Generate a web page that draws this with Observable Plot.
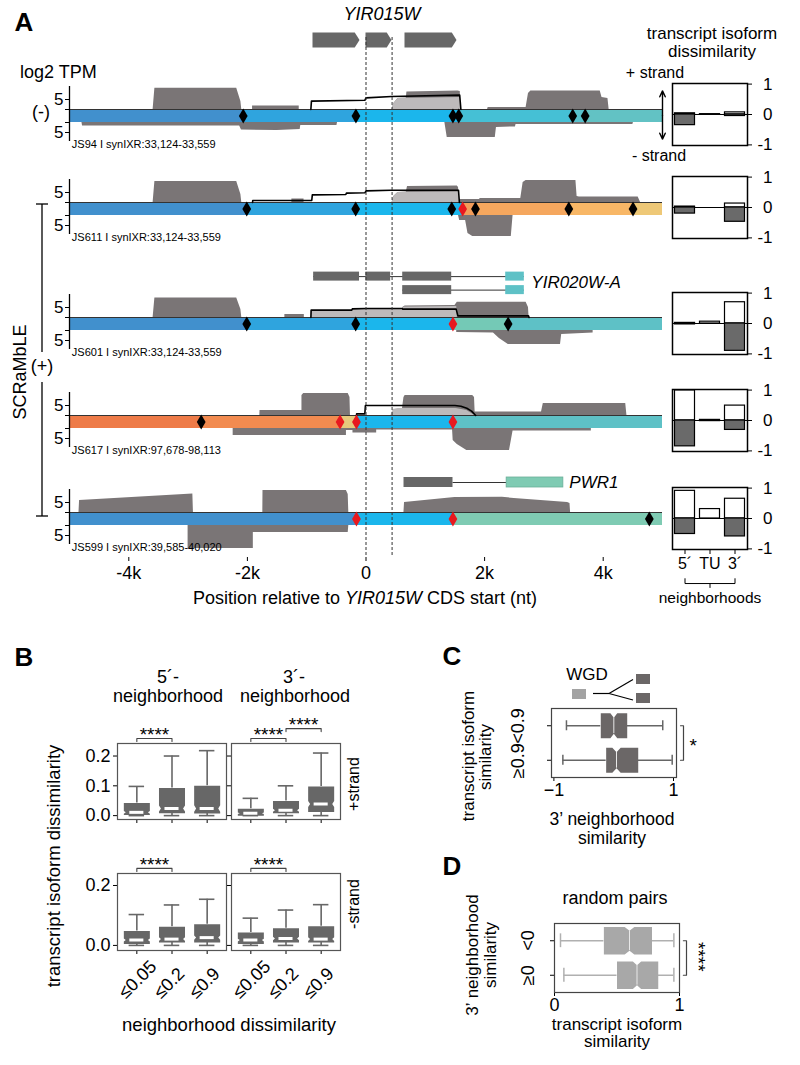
<!DOCTYPE html>
<html><head><meta charset="utf-8">
<script src="https://cdn.jsdelivr.net/npm/d3@7"></script>
<script src="https://cdn.jsdelivr.net/npm/@observablehq/plot@0.6"></script>
<style>
body{margin:0;background:#fff;}
#fig{position:relative;width:800px;height:1065px;font-family:"Liberation Sans",Arial,Helvetica,sans-serif;color:#000;overflow:hidden;background:#fff}
.lbl{position:absolute;white-space:nowrap;line-height:1}
</style></head>
<body><div id="fig"></div>
<script>
// ---------------- DATA ----------------
// Panel A: genome tracks (x in nt relative to YIR015W CDS start; y in log2 TPM)
const xTicksA = [-4000, -2000, 0, 2000, 4000];
const cdsMarks = [0, 440];
const yir015wExons = [[-894, -101], [0, 438], [658, 1535]];
const yir020Exons = [[1, -883, -109], [1, -2, 416], [1, 619, 1445], [2, 619, 1445]];
const yir020Utrs = [[1, 2356, 2670], [2, 2356, 2670]];
const pwr1Exons = [[641, 1467]];
const pwr1Utrs = [[2372, 3328]];

const trackNames = ["JS94 I synIXR:33,124-33,559", "JS611 I synIXR:33,124-33,559", "JS601 I synIXR:33,124-33,559", "JS617 I synIXR:97,678-98,113", "JS599 I synIXR:39,585-40,020"];

const t1Segments = [[-5000,-2070,"b1"],[-2070,-170,"b2"],[-170,1564,"c"],[1564,3486,"t1"],[3486,3696,"t2"],[3696,5000,"t3"]];
const t1Sites = [[-2070,"lox"],[-170,"lox"],[1466,"lox"],[1564,"lox"],[3486,"lox"],[3696,"lox"]];
const t1Plus = [[-3590,0],[-3560,10.6],[-2180,10.6],[-2110,4],[-2095,0],[-1913,0],[-1913,1.7],[-1126,1.7],[-1126,0],[440,0],[470,3],[540,5.5],[680,5.8],[690,8.8],[1550,9.3],[1590,9],[1600,0],[2050,0],[2060,1],[2700,1],[2740,8],[2780,9.2],[3950,9.2],[3980,6],[4080,5.5],[4100,0]];
const t1Light = [[440,0],[470,3],[540,5.5],[1590,6],[1600,0]];
const t1Line = [[-930,0],[-920,4.2],[-20,4.6],[0,5.8],[430,6.5],[1580,7.2],[1600,0]];
const t1Minus = [[-4790,0],[-4780,1.7],[-2130,1.7],[-2100,3.8],[-1500,4],[-1110,3.5],[-1100,1.5],[-490,1.5],[-480,0],[1330,0],[1370,7.5],[2180,7.5],[2200,2.5],[2520,2.2],[2530,1],[4500,1],[4510,0]];

const t2Segments = [[-5000,-2011,"b1"],[-2011,-174,"b2"],[-174,1630,"c"],[1630,1846,"o3"],[1846,3420,"o4"],[3420,4503,"o5"],[4503,5000,"y2"]];
const t2Sites = [[-2011,"lox"],[-174,"lox"],[1446,"lox"],[1630,"novel"],[1846,"lox"],[3420,"lox"],[4503,"lox"]];
const t2Plus = [[-3590,0],[-3560,10.5],[-2180,10.5],[-2110,4],[-2095,0],[-1250,0],[-1250,1.8],[-1045,1.8],[-1045,0],[440,0],[470,3],[540,5],[680,5.2],[700,8],[1540,8.3],[1560,7.5],[1580,0],[1590,1.5],[1920,1.5],[1920,2],[2610,2],[2650,10],[2700,11],[3540,11],[3560,3],[3600,2.7],[4590,2.7],[4630,0]];
const t2Light = [[440,0],[470,3],[540,5],[1570,5.2],[1580,0]];
const t2Line = [[-1913,0],[-1910,1],[-915,1],[-905,3.8],[-340,4],[-330,4.7],[-15,4.9],[0,5.8],[420,6.1],[1560,6.1],[1575,0]];
const t2Minus = [[1560,0],[1580,2.5],[1680,2.5],[1720,9],[1800,10.5],[2450,10.5],[2480,0]];

const t3Segments = [[-5000,-2011,"b1"],[-2011,-174,"b2"],[-174,1466,"c"],[1466,2397,"m1"],[2397,5000,"t4"]];
const t3Sites = [[-2011,"lox"],[-174,"lox"],[1466,"novel"],[2397,"lox"]];
const t3Plus = [[-3590,0],[-3560,9.7],[-2180,9.7],[-2110,4],[-2095,0],[-1368,0],[-1368,1.5],[-1040,1.5],[-1040,0],[600,0],[620,5],[660,5.8],[1500,6],[1540,7.6],[2700,7.6],[2740,5],[2750,0]];
const t3Light = [[-929,0],[-925,3.3],[-240,3.3],[-230,4.1],[0,4.3],[600,4.3],[650,5.3],[1530,5.5],[1540,0]];
const t3Line = [[-929,0],[-925,3.7],[-240,3.7],[-230,4.3],[0,4.5],[610,4.5],[620,4.2],[1520,4.2],[1550,0.8],[2740,0.8],[2750,0]];
const t3Minus = [[1530,0],[1530,1],[2150,1.2],[2250,4],[2400,7],[3280,7],[3300,2],[3830,1.3],[3830,0]];

const t4Segments = [[-5000,-2779,"o1"],[-2779,-437,"o2"],[-437,-161,"y1"],[-161,1466,"c"],[1466,5000,"t4"]];
const t4Sites = [[-2779,"lox"],[-437,"novel"],[-161,"novel"],[1466,"novel"]];
const t4Plus = [[-1790,0],[-1787,2.5],[-1080,2.5],[-1080,10],[-1050,11],[-300,11],[-270,9],[-262,0],[600,0],[640,9],[660,10],[1800,10],[1830,9],[1840,1.7],[2960,1.7],[2990,6],[4380,6],[4400,0]];
const t4Light = [[420,0],[460,3],[540,3.5],[1520,3.5],[1700,2.5],[1840,0]];
const t4Line = [[-161,0],[-158,0.8],[-20,0.8],[-10,5],[1500,5],[1600,4.6],[1700,3.6],[1780,2.2],[1850,0]];
const t4Minus = [[-2240,0],[-2240,3.5],[-330,3.5],[-330,1],[-220,1],[-220,2.3],[180,2.3],[180,0.8],[1460,0.8],[1470,6],[1540,8],[1700,11],[2420,11],[2480,1.2],[3800,1.2],[3800,0]];

const t5Segments = [[-5000,-161,"b1"],[-161,1466,"c"],[1466,5000,"g1"]];
const t5Sites = [[-161,"novel"],[1466,"novel"],[4778,"lox"]];
const t5Plus = [[-4840,0],[-4830,6],[-2920,9.3],[-2910,0],[-1740,0],[-1737,11],[-330,11],[-300,9],[-290,0],[640,0],[650,5],[1500,7.5],[2300,7.6],[2500,7],[3400,5],[3440,4.5],[3450,0]];
const t5Light = [];
const t5Line = [];
const t5Minus = [[-3000,0],[-3000,11.5],[-1900,11.5],[-1900,3.5],[-300,3.5],[-290,0]];

// Panel A right: transcript isoform dissimilarity per neighborhood
const regions = ["5´", "TU", "3´"];
const dissPlus  = [[0.04, 0.01, 0.07], [0.03, 0, 0.13], [0.02, 0.06, 0.7], [0.99, 0.02, 0.49], [0.91, 0.31, 0.65]];
const dissMinus = [[-0.35, -0.01, -0.05], [-0.2, 0, -0.47], [-0.03, 0, -0.9], [-0.85, -0.02, -0.31], [-0.51, 0, -0.59]];

// Panel B: box stats [lowWhisker, q1, median, q3, highWhisker]
const bCats = ["≤0.05", "≤0.2", "≤0.9"];
const b5Plus  = [[0, 0.002, 0.011, 0.042, 0.098], [0, 0.008, 0.024, 0.093, 0.2], [0, 0.007, 0.024, 0.1, 0.218]];
const b3Plus  = [[0, 0.0, 0.008, 0.023, 0.058], [0, 0.008, 0.018, 0.049, 0.1], [0, 0.012, 0.039, 0.098, 0.21]];
const b5Minus = [[0, 0.005, 0.018, 0.048, 0.103], [0, 0.01, 0.021, 0.062, 0.135], [0, 0.01, 0.026, 0.071, 0.154]];
const b3Minus = [[0, 0.005, 0.018, 0.043, 0.091], [0, 0.01, 0.023, 0.057, 0.118], [0, 0.01, 0.021, 0.064, 0.136]];

// Panel C and D
const cCats = ["<0.9", "≥0.9"];
const cStats = [[-0.79, -0.216, 0.002, 0.226, 0.82], [-0.85, -0.126, 0.047, 0.41, 0.978]];
const dCats = ["<0", "≥0"];
const dStats = [[0.048, 0.395, 0.6, 0.78, 0.955], [0.075, 0.5, 0.66, 0.83, 0.955]];

// ---------------- STYLE ----------------
const FONT = '"Liberation Sans", Arial, Helvetica, sans-serif';
const DARK = "#7a7576", LIGHT = "#bdbabb", GENE = "#676767", BOXG = "#676767";
const BAR = 6.5;
const segKeys = ["b1","b2","c","t1","t2","t3","m1","t4","o1","o2","y1","o3","o4","o5","y2","g1"];
const segColors = ["#4190cd","#2fa4de","#1bb6ec","#45c0d5","#57c1cc","#62c2c4","#74c9b6","#5ec1c6","#ee7b48","#f28b50","#e6c97c","#f39d5a","#f5a75e","#f8b766","#eec877","#7fcbb3"];
const baseStyle = {background: "transparent", overflow: "visible", fontFamily: FONT, fontSize: "17px", color: "black"};

const fig = document.getElementById("fig");
function put(svg, left, top) {
  svg.style.position = "absolute"; svg.style.left = left + "px"; svg.style.top = top + "px";
  fig.appendChild(svg); return svg;
}
function txt(s, x, y, o = {}) {
  const d = document.createElement("div");
  d.className = "lbl";
  if (o.html) d.innerHTML = s; else d.textContent = s;
  d.style.left = x + "px"; d.style.top = y + "px";
  d.style.fontSize = (o.size || 18) + "px";
  if (o.weight) d.style.fontWeight = o.weight;
  if (o.italic) d.style.fontStyle = "italic";
  const a = o.anchor || "middle";
  const tx = a === "start" ? "0" : a === "end" ? "-100%" : "-50%";
  d.style.transform = `translate(${tx},-50%)` + (o.rotate ? ` rotate(${o.rotate}deg)` : "");
  fig.appendChild(d);
}
const X = d => d[0], V = d => d[1];

// ---------------- PANEL A TRACKS ----------------
function trackPlot(plus, light, line, minus, segs, sites, name, extra = []) {
  return Plot.plot({
    width: 800, height: 70, marginLeft: 69, marginRight: 138, marginTop: 0, marginBottom: 0,
    style: baseStyle,
    x: {domain: [-5000, 5000], axis: null},
    y: {domain: [-21, 14], ticks: [5, 0, -BAR, -BAR - 5], tickFormat: d => (d === 5 || d === -BAR - 5) ? "5" : "", tickSize: 4, tickPadding: 2, label: null},
    color: {domain: segKeys, range: segColors},
    marks: [
      Plot.areaY(plus, {x: X, y1: 0, y2: V, fill: DARK}),
      Plot.areaY(light, {x: X, y1: 0, y2: V, fill: LIGHT}),
      Plot.areaY(minus, {x: X, y1: -BAR, y2: d => -BAR - d[1], fill: DARK}),
      Plot.rect(segs, {x1: d => d[0], x2: d => d[1], y1: -BAR, y2: 0, fill: d => d[2]}),
      Plot.ruleY([0], {stroke: "#333", strokeWidth: 1}),
      Plot.line(line, {x: X, y: V, stroke: "black", strokeWidth: 1.6}),
      Plot.dot(sites.filter(d => d[1] === "lox"), {x: X, y: -BAR / 2, symbol: "diamond", r: 4.6, fill: "black", stroke: null}),
      Plot.dot(sites.filter(d => d[1] === "novel"), {x: X, y: -BAR / 2, symbol: "diamond", r: 4.6, fill: "#e8191f", stroke: null}),
      Plot.ruleX([-5000], {y1: 11.5, y2: -16, stroke: "black", strokeWidth: 1.3}),
      Plot.text([name], {x: -4960, y: -17.3, text: d => d, textAnchor: "start", fontSize: 11, fill: "black"}),
      ...extra
    ]
  });
}
const baselines = [108.5, 202, 317, 415, 512];
const strandArrow = [
  Plot.arrow([{y1: -3, y2: 9.3}, {y1: -3, y2: -14.8}], {x1: 5000, x2: 5000, y1: "y1", y2: "y2", stroke: "black", strokeWidth: 1.4, headLength: 7, headAngle: 50})
];
const tracks = [
  [t1Plus, t1Light, t1Line, t1Minus, t1Segments, t1Sites, strandArrow],
  [t2Plus, t2Light, t2Line, t2Minus, t2Segments, t2Sites, []],
  [t3Plus, t3Light, t3Line, t3Minus, t3Segments, t3Sites, []],
  [t4Plus, t4Light, t4Line, t4Minus, t4Segments, t4Sites, []],
  [t5Plus, t5Light, t5Line, t5Minus, t5Segments, t5Sites, []]
];
tracks.forEach((t, k) => {
  put(trackPlot(t[0], t[1], t[2], t[3], t[4], t[5], trackNames[k], t[6]), 0, baselines[k] - 28);
});

// gene models
const tip = 80;
const yir015wPoly = yir015wExons.flatMap(([s, e], i) => [
  {x: s, y1: -1, y2: 1, id: i}, {x: e - tip, y1: -1, y2: 1, id: i}, {x: e, y1: 0, y2: 0, id: i}]);
put(Plot.plot({
  width: 800, height: 20, marginLeft: 69, marginRight: 138, marginTop: 0, marginBottom: 0, style: baseStyle,
  x: {domain: [-5000, 5000], axis: null}, y: {domain: [-1.333, 1.333], axis: null},
  marks: [Plot.areaY(yir015wPoly, {x: "x", y1: "y1", y2: "y2", z: "id", fill: GENE})]
}), 0, 30);

const yir020Introns = d3.groups(yir020Exons, d => d[0]).map(([row, ex]) => ({row, s: d3.min(ex, d => d[1]), e: d3.max(yir020Utrs.filter(u => u[0] === row), u => u[2])}));
put(Plot.plot({
  width: 800, height: 30, marginLeft: 69, marginRight: 138, marginTop: 0, marginBottom: 0, style: baseStyle,
  x: {domain: [-5000, 5000], axis: null}, y: {domain: [0.4, 2.62], reverse: true, axis: null},
  marks: [
    Plot.ruleY(yir020Introns, {y: "row", x1: "s", x2: "e", stroke: "#333", strokeWidth: 1}),
    Plot.rect(yir020Exons, {x1: d => d[1], x2: d => d[2], y1: d => d[0] - 0.333, y2: d => d[0] + 0.333, fill: GENE}),
    Plot.rect(yir020Utrs, {x1: d => d[1], x2: d => d[2], y1: d => d[0] - 0.333, y2: d => d[0] + 0.333, fill: "#5ec1c6"}),
    Plot.text(["YIR020W-A"], {x: d3.max(yir020Utrs, d => d[2]), y: 1.45, dx: 7, textAnchor: "start", fontStyle: "italic", fontSize: 17, fill: "black"})
  ]
}), 0, 268);

put(Plot.plot({
  width: 800, height: 20, marginLeft: 69, marginRight: 138, marginTop: 0, marginBottom: 0, style: baseStyle,
  x: {domain: [-5000, 5000], axis: null}, y: {domain: [-2, 2], axis: null},
  marks: [
    Plot.ruleY([0], {x1: d3.max(pwr1Exons, d => d[1]), x2: d3.min(pwr1Utrs, d => d[0]), stroke: "#333", strokeWidth: 1}),
    Plot.rect(pwr1Exons, {x1: d => d[0], x2: d => d[1], y1: -1, y2: 1, fill: GENE}),
    Plot.rect(pwr1Utrs, {x1: d => d[0], x2: d => d[1], y1: -1, y2: 1, fill: "#7fcbb3", stroke: "#6aae98", strokeWidth: 0.8}),
    Plot.text(["PWR1"], {x: d3.max(pwr1Utrs, d => d[1]), y: 0, dx: 6, textAnchor: "start", fontStyle: "italic", fontSize: 17, fill: "black"})
  ]
}), 0, 472);

// overlay: dashed CDS lines + x axis
put(Plot.plot({
  width: 800, height: 565, marginLeft: 69, marginRight: 138, marginTop: 0, marginBottom: 45, style: {...baseStyle, fontSize: "18px"},
  x: {domain: [-5000, 5000], ticks: xTicksA, tickFormat: d => d === 0 ? "0" : `${d / 1000}k`, tickSize: 4, tickPadding: 5, label: null},
  marks: [Plot.ruleX(cdsMarks, {stroke: "#333", strokeWidth: 1, strokeDasharray: "3,2"})]
}), 0, 37);

// right bar charts
const chartTops = [83, 176, 292, 389, 487];
chartTops.forEach((top, k) => {
  const last = k === chartTops.length - 1;
  const rows = regions.map((r, i) => ({i, plus: dissPlus[k][i], minus: dissMinus[k][i]}));
  const marks = [
    Plot.ruleY([0], {stroke: "black", strokeWidth: 1}),
    Plot.rect(rows.filter(d => d.plus !== 0), {x1: d => d.i - 0.4, x2: d => d.i + 0.4, y1: 0, y2: "plus", fill: "white", stroke: "black", strokeWidth: 1.2}),
    Plot.rect(rows.filter(d => d.minus !== 0), {x1: d => d.i - 0.4, x2: d => d.i + 0.4, y1: 0, y2: "minus", fill: "#6a6a6a", stroke: "black", strokeWidth: 1.2}),
    Plot.frame({stroke: "black", strokeWidth: 1.5}),
    Plot.text([-1, 0, 1], {y: d => d, text: d => String(d), frameAnchor: "right", dx: 25, textAnchor: "end", fontSize: 17, fill: "black"})
  ];
  if (last) {
    marks.push(
      Plot.line([{x: 0, y: -1.98}, {x: 0, y: -2.14}, {x: 2, y: -2.14}, {x: 2, y: -1.98}], {x: "x", y: "y", stroke: "black", strokeWidth: 1}),
      Plot.ruleX([1], {y1: -2.14, y2: -2.3, stroke: "black", strokeWidth: 1}),
      Plot.text(["neighborhoods"], {x: 1, y: -2.62, fontSize: 15.5, fill: "black"})
    );
  }
  put(Plot.plot({
    width: 112, height: last ? 116 : 66, marginLeft: 2, marginRight: 35, marginTop: 2, marginBottom: last ? 52 : 2,
    style: {...baseStyle, fontSize: "16px"},
    x: last ? {domain: [-0.5, 2.5], ticks: [0, 1, 2], tickFormat: i => regions[i], tickSize: 5, tickPadding: 3, label: null} : {domain: [-0.5, 2.5], axis: null},
    y: {domain: [-1.02, 1.02], ticks: [-1, 0, 1], tickFormat: () => "", tickSize: 4, axis: "right", label: null},
    marks
  }), 670, top - 2);
});

// ---------------- BOX HELPERS ----------------
function notchedBox(pos, s, hw, ind, nfrac, vertical, id) {
  const [lo, q1, med, q3, hi] = s;
  let n = nfrac * (q3 - q1); n = Math.max(0, Math.min(n, med - q1, q3 - med));
  const pts = [[-1, q1], [-1, med - n], [-ind, med], [-1, med + n], [-1, q3], [1, q3], [1, med + n], [ind, med], [1, med - n], [1, q1]];
  return pts.map(([o, v]) => vertical ? {x: pos + o * hw, y: v, id} : {x: v, y: pos + o * hw, id});
}

// ---------------- PANEL B ----------------
function bPlot(stats, o) {
  const rows = stats.map((s, i) => ({pos: i + 1, lo: s[0], q1: s[1], med: s[2], q3: s[3], hi: s[4]}));
  const boxes = stats.flatMap((s, i) => notchedBox(i + 1, s, 0.37, 0.85, 0.12, true, i));
  const top = o.domain[1];
  const br = (o.brackets || []).map(([a, b], j) => ({a, b, h: top + 0.017 + j * 0.033, j}));
  const brPts = br.flatMap(({a, b, h, j}) => [{x: a, y: h - 0.01, j}, {x: a, y: h, j}, {x: b, y: h, j}, {x: b, y: h - 0.01, j}]);
  const marks = [
    Plot.ruleX(rows, {x: "pos", y1: "lo", y2: "q1", stroke: BOXG, strokeWidth: 1.6}),
    Plot.ruleX(rows, {x: "pos", y1: "q3", y2: "hi", stroke: BOXG, strokeWidth: 1.6}),
    Plot.ruleY(rows, {y: "lo", x1: d => d.pos - 0.22, x2: d => d.pos + 0.22, stroke: BOXG, strokeWidth: 1.6}),
    Plot.ruleY(rows, {y: "hi", x1: d => d.pos - 0.22, x2: d => d.pos + 0.22, stroke: BOXG, strokeWidth: 1.6}),
    Plot.line(boxes, {x: "x", y: "y", z: "id", fill: BOXG, stroke: "none"}),
    Plot.ruleY(rows, {y: "med", x1: d => d.pos - 0.2, x2: d => d.pos + 0.2, stroke: "white", strokeWidth: 3}),
    Plot.frame({stroke: "#555", strokeWidth: 1.2}),
    Plot.line(brPts, {x: "x", y: "y", z: "j", stroke: "#444", strokeWidth: 1.1}),
    Plot.text(br, {x: d => (d.a + d.b) / 2, y: "h", text: () => "****", fontSize: 19, dy: -4, fill: "black"})
  ];
  if (o.xLabels) marks.push(Plot.text(bCats, {x: (d, i) => i + 1, frameAnchor: "bottom", text: d => d, rotate: -45, textAnchor: "start", dx: -11, dy: 49, fontSize: 18, fill: "black"}));
  return Plot.plot({
    width: 30 + 109 + 10, height: 30 + o.fh + 10, marginLeft: 30, marginRight: 10, marginTop: 30, marginBottom: 10,
    style: {...baseStyle, fontSize: "18px"},
    x: {domain: [0.45, 3.55], ticks: [1, 2, 3], tickFormat: () => "", tickSize: 4, label: null},
    y: {domain: o.domain, ticks: o.ticks, tickFormat: o.yLabels ? d3.format(".1f") : () => "", tickSize: 4, tickPadding: 3, label: null},
    marks
  });
}
const topDom = [-0.013, 0.242], botDom = [-0.017, 0.24];
put(bPlot(b5Plus, {domain: topDom, fh: 76, ticks: [0, 0.1, 0.2], yLabels: true, brackets: [[1, 2]]}), 117 - 30, 743 - 30);
put(bPlot(b3Plus, {domain: topDom, fh: 76, ticks: [0, 0.1, 0.2], yLabels: false, brackets: [[1, 2], [2, 3]]}), 231 - 30, 743 - 30);
put(bPlot(b5Minus, {domain: botDom, fh: 77, ticks: [0, 0.2], yLabels: true, brackets: [[1, 2]], xLabels: true}), 117 - 30, 873 - 30);
put(bPlot(b3Minus, {domain: botDom, fh: 77, ticks: [0, 0.2], yLabels: false, brackets: [[1, 2]], xLabels: true}), 231 - 30, 873 - 30);

// ---------------- PANELS C, D ----------------
function hPlot(stats, cats, o) {
  const rows = stats.map((s, i) => ({pos: i + 1, lo: s[0], q1: s[1], med: s[2], q3: s[3], hi: s[4]}));
  const boxes = stats.flatMap((s, i) => notchedBox(i + 1, s, o.hw, o.ind, o.nfrac, false, i));
  const bx = o.domain[1] + o.brOff;
  const marks = [
    Plot.ruleY(rows, {y: "pos", x1: "lo", x2: "q1", stroke: o.wcol, strokeWidth: 1.5}),
    Plot.ruleY(rows, {y: "pos", x1: "q3", x2: "hi", stroke: o.wcol, strokeWidth: 1.5}),
    Plot.ruleX(rows, {x: "lo", y1: d => d.pos - o.cap, y2: d => d.pos + o.cap, stroke: o.wcol, strokeWidth: 1.5}),
    Plot.ruleX(rows, {x: "hi", y1: d => d.pos - o.cap, y2: d => d.pos + o.cap, stroke: o.wcol, strokeWidth: 1.5}),
    Plot.line(boxes, {x: "x", y: "y", z: "id", fill: o.fill, stroke: "none"}),
    Plot.ruleX(rows, {x: "med", y1: d => d.pos - o.hw * o.ind, y2: d => d.pos + o.hw * o.ind, stroke: "#e8e8e8", strokeWidth: 1}),
    Plot.frame({stroke: "#444", strokeWidth: 1.2}),
    Plot.text(cats, {y: (d, i) => i + 1, frameAnchor: "left", text: d => d, rotate: -90, textAnchor: "start", dx: o.catDx, dy: o.catDy, fontSize: 18, fill: "black"}),
    Plot.line([{x: bx - o.brTick, y: 1}, {x: bx, y: 1}, {x: bx, y: 2}, {x: bx - o.brTick, y: 2}], {x: "x", y: "y", stroke: "#444", strokeWidth: 1.2}),
    Plot.text([o.sig], {x: bx, y: 1.5, dx: o.sigDx, dy: o.sigDy, rotate: o.sigRot, textAnchor: "start", fontSize: 19, fill: "black"})
  ];
  return Plot.plot({
    width: 40 + 125 + 40, height: 10 + 69 + 10, marginLeft: 40, marginRight: 40, marginTop: 10, marginBottom: 10,
    style: {...baseStyle, fontSize: "18px"},
    x: {domain: o.domain, ticks: o.xticks, tickFormat: o.xfmt, tickSize: 4, tickPadding: 2, label: null},
    y: {domain: [0.5, 2.5], reverse: true, ticks: [1, 2], tickFormat: () => "", tickSize: 4, label: null},
    marks
  });
}
put(hPlot(cStats, cCats, {domain: [-1.04, 1.05], xticks: [-1, 1], xfmt: d => d < 0 ? "−1" : "1", hw: 0.36, ind: 0.64, nfrac: 0.13, cap: 0.145, wcol: "#666", fill: "#6b6767", catDx: -33, catDy: 18, brOff: 0.117, brTick: 0.05, sig: "*", sigDx: 6, sigDy: 3, sigRot: 0}), 551 - 40, 708 - 10);
put(hPlot(dStats, dCats, {domain: [0, 1], xticks: [0, 1], xfmt: d => String(d), hw: 0.4, ind: 0.72, nfrac: 0.1, cap: 0.2, wcol: "#b0b0b0", fill: "#a8a8a8", catDx: -26, catDy: 10, brOff: 0.056, brTick: 0.025, sig: "****", sigDx: 12, sigDy: -16, sigRot: 90}), 554 - 40, 923 - 10);

// ---------------- DECORATIONS (bracket, legend) ----------------
const deco = d3.select(fig).append("svg").attr("width", 800).attr("height", 1065)
  .style("position", "absolute").style("left", 0).style("top", 0).style("pointer-events", "none");
const ln = (x1, y1, x2, y2, w = 1.3, c = "black") => deco.append("line").attr("x1", x1).attr("y1", y1).attr("x2", x2).attr("y2", y2).attr("stroke", c).attr("stroke-width", w);
ln(42, 204, 42, 352); ln(42, 382, 42, 516); ln(36, 204, 48, 204); ln(36, 516, 48, 516);
// WGD legend
deco.append("rect").attr("x", 572).attr("y", 689).attr("width", 14).attr("height", 10).attr("fill", "#a3a3a3");
deco.append("rect").attr("x", 636).attr("y", 674).attr("width", 14).attr("height", 10).attr("fill", "#6b6767");
deco.append("rect").attr("x", 636).attr("y", 693).attr("width", 14).attr("height", 10).attr("fill", "#6b6767");
ln(593, 693.5, 609, 693.5, 1.2); ln(609, 693.5, 633, 679.5, 1.2); ln(609, 693.5, 633, 700, 1.2);

// ---------------- TEXT LABELS ----------------
txt("A", 24, 22, {size: 26, weight: "bold"});
txt("B", 24, 657, {size: 26, weight: "bold"});
txt("C", 452, 656, {size: 26, weight: "bold"});
txt("D", 452, 866, {size: 26, weight: "bold"});
txt("YIR015W", 382, 14, {size: 18, italic: true});
txt("transcript isoform", 712, 33, {size: 17});
txt("dissimilarity", 712, 51, {size: 17});
txt("log2 TPM", 20, 72, {size: 18, anchor: "start"});
txt("(-)", 41, 112, {size: 18});
txt("(+)", 42, 366, {size: 18});
txt("SCRaMbLE", 20, 372, {size: 18, rotate: -90});
txt("+ strand", 655, 73, {size: 16});
txt("- strand", 659, 156, {size: 16});
txt('Position relative to <i>YIR015W</i> CDS start (nt)', 365, 598, {size: 18, html: true});
txt("5´-", 168, 677, {size: 18});
txt("neighborhood", 168, 696, {size: 18});
txt("3´-", 294, 677, {size: 18});
txt("neighborhood", 295, 696, {size: 18});
txt("transcript isoform dissimilarity", 54, 866, {size: 18.5, rotate: -90});
txt("+strand", 354, 784, {size: 16, rotate: -90});
txt("-strand", 354, 904, {size: 16, rotate: -90});
txt("neighborhood dissimilarity", 229, 1025, {size: 18.5});
txt("WGD", 587, 674, {size: 17});
txt("transcript isoform", 468, 756, {size: 17, rotate: -90});
txt("similarity", 485, 757, {size: 17, rotate: -90});
txt("3’ neighborhood", 612, 820, {size: 17.5});
txt("similarity", 612, 839, {size: 17.5});
txt("random pairs", 615, 898, {size: 18});
txt("3’ neighborhood", 472, 955, {size: 17, rotate: -90});
txt("similarity", 490, 955, {size: 17, rotate: -90});
txt("transcript isoform", 617, 1024, {size: 17});
txt("similarity", 617, 1041, {size: 17});
</script>
</body></html>
